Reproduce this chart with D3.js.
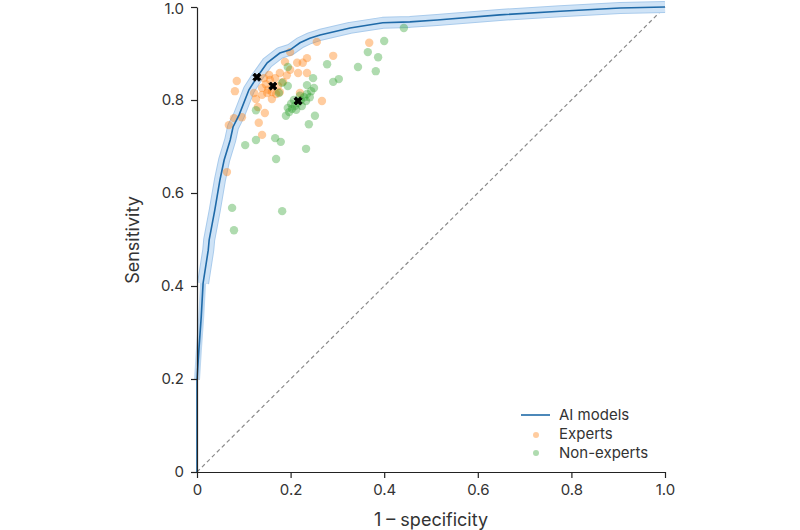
<!DOCTYPE html>
<html><head><meta charset="utf-8">
<script src="https://cdn.jsdelivr.net/npm/d3@7"></script>
<style>body{margin:0;background:#fff}svg{display:block}text{font-family:Inter,"Noto Sans",sans-serif;fill:#333}</style>
</head><body><svg id="c" width="800" height="530"></svg>
<script>
// ROC curve of AI models (1 - specificity, sensitivity)
const rocFpr = [0,0,0.004,0.009,0.013,0.024,0.026,0.038,0.049,0.058,0.071,0.077,0.090,0.111,0.128,0.150,0.177,0.199,0.220,0.241,0.263,0.327,0.397,0.455,0.513,0.647,0.776,0.904,1];
const rocTpr = [0,0.198,0.262,0.333,0.406,0.477,0.499,0.563,0.628,0.671,0.714,0.742,0.768,0.822,0.849,0.880,0.901,0.908,0.923,0.933,0.940,0.955,0.966,0.968,0.972,0.983,0.991,0.998,1];
// Experts
const expFpr = [0.256,0.199,0.188,0.214,0.226,0.235,0.291,0.368,0.085,0.081,0.216,0.235,0.192,0.177,0.122,0.126,0.130,0.145,0.267,0.220,0.079,0.096,0.068,0.132,0.139,0.064,0.139,0.150,0.160,0.160,0.139,0.147,0.156,0.167,0.152,0.173,0.184,0.169,0.199,0.154,0.143,0.177];
const expTpr = [0.925,0.903,0.882,0.880,0.880,0.890,0.895,0.923,0.841,0.819,0.858,0.858,0.853,0.858,0.815,0.802,0.785,0.772,0.798,0.815,0.761,0.763,0.746,0.751,0.725,0.645,0.811,0.815,0.817,0.802,0.826,0.834,0.843,0.847,0.822,0.830,0.839,0.813,0.865,0.854,0.847,0.817];
// Non-experts
const nonFpr = [0.442,0.400,0.365,0.387,0.344,0.382,0.278,0.291,0.303,0.248,0.235,0.194,0.194,0.175,0.252,0.239,0.126,0.103,0.126,0.167,0.179,0.233,0.169,0.075,0.182,0.079,0.190,0.197,0.203,0.209,0.216,0.222,0.229,0.235,0.244,0.250,0.201,0.212,0.224,0.233,0.220,0.241,0.207,0.194,0.182];
const nonTpr = [0.955,0.927,0.903,0.892,0.871,0.862,0.877,0.839,0.845,0.847,0.832,0.871,0.830,0.815,0.766,0.748,0.778,0.703,0.714,0.718,0.710,0.695,0.673,0.568,0.561,0.520,0.766,0.774,0.781,0.787,0.794,0.800,0.806,0.813,0.819,0.826,0.792,0.779,0.787,0.798,0.809,0.806,0.800,0.783,0.837];
// Mean performance markers: AI, experts, non-experts
const meanFpr = [0.128,0.162,0.216];
const meanTpr = [0.849,0.830,0.798];
const ticks = [0,0.2,0.4,0.6,0.8,1.0];
const tickLabels = ["0","0.2","0.4","0.6","0.8","1.0"];
const legendLabels = ["AI models","Experts","Non-experts"];

const svg = d3.select("#c");
const x = d3.scaleLinear().domain([0,1]).range([197,665]);
const y = d3.scaleLinear().domain([0,1]).range([472,7]);

// diagonal
svg.append("line").attr("x1",x(0)).attr("y1",y(0)).attr("x2",x(1)).attr("y2",y(1))
  .attr("stroke","#8a8a8a").attr("stroke-width",1.2).attr("stroke-dasharray","4,3");

const roc = rocFpr.map((f,i)=>[f,rocTpr[i]]);
const line = d3.line().x(d=>x(d[0])).y(d=>y(d[1]));
const band1 = roc.filter(d=>d[1]>=0.19 && d[1]<0.42);
const band2 = roc.filter(d=>d[1]>=0.40);
// narrow lower confidence band, wider upper band
svg.append("path").attr("d",line(band1)).attr("fill","none").attr("stroke","#bcd7f0").attr("stroke-width",6).attr("stroke-linejoin","round");
svg.append("path").attr("d",line(band2)).attr("fill","none").attr("stroke","#a9cbec").attr("stroke-width",12).attr("stroke-linejoin","round");
svg.append("path").attr("d",line(band2)).attr("fill","none").attr("stroke","#cfe3f6").attr("stroke-width",10).attr("stroke-linejoin","round");

svg.append("g").selectAll("circle").data(expFpr.map((f,i)=>[f,expTpr[i]])).join("circle")
  .attr("cx",d=>x(d[0])).attr("cy",d=>y(d[1])).attr("r",4.2).attr("fill","#ff7f0e").attr("fill-opacity",0.4);
svg.append("g").selectAll("circle").data(nonFpr.map((f,i)=>[f,nonTpr[i]])).join("circle")
  .attr("cx",d=>x(d[0])).attr("cy",d=>y(d[1])).attr("r",4.2).attr("fill","#2ca02c").attr("fill-opacity",0.38);

svg.append("path").attr("d",line(roc)).attr("fill","none").attr("stroke","#1f6aa8").attr("stroke-width",1.6);

const xsym = d3.symbol().type(d3.symbolCross).size(42);
svg.append("g").selectAll("path").data(meanFpr.map((f,i)=>[f,meanTpr[i]])).join("path")
  .attr("transform",d=>`translate(${x(d[0])},${y(d[1])}) rotate(45)`).attr("d",xsym())
  .attr("stroke","#000").attr("stroke-width",0.8).attr("fill","#000");

// axes
const xa = svg.append("g").attr("transform",`translate(0,${y(0)})`)
  .call(d3.axisBottom(x).tickValues(ticks).tickFormat((d,i)=>tickLabels[i]).tickSize(6).tickPadding(6).tickSizeOuter(0));
const ya = svg.append("g").attr("transform",`translate(${x(0)},0)`)
  .call(d3.axisLeft(y).tickValues(ticks).tickFormat((d,i)=>tickLabels[i]).tickSize(6).tickPadding(7).tickSizeOuter(0));
[xa,ya].forEach(g=>{g.selectAll("path,line").attr("stroke","#222").attr("stroke-width",1.2);
  g.selectAll("text").attr("font-size",15).attr("fill","#333").style("font-family","Inter,'Noto Sans',sans-serif");});
ya.selectAll(".tick text").filter((d,i)=>i===ticks.length-1).attr("dy","0.45em");

svg.append("text").attr("x",431).attr("y",526).attr("text-anchor","middle").attr("font-size",18).text("1 – specificity");
svg.append("text").attr("transform","translate(139,240) rotate(-90)").attr("text-anchor","middle").attr("font-size",18).text("Sensitivity");

// legend
const lg = svg.append("g");
lg.append("line").attr("x1",521).attr("x2",550).attr("y1",415).attr("y2",415).attr("stroke","#1f6aa8").attr("stroke-width",1.6);
lg.append("circle").attr("cx",536).attr("cy",435).attr("r",3).attr("fill","#ff7f0e").attr("fill-opacity",0.4);
lg.append("circle").attr("cx",536).attr("cy",453).attr("r",3).attr("fill","#2ca02c").attr("fill-opacity",0.38);
legendLabels.forEach((t,i)=>lg.append("text").attr("x",559).attr("y",415+i*19).attr("dy","0.35em").attr("font-size",15).text(t));
</script></body></html>
